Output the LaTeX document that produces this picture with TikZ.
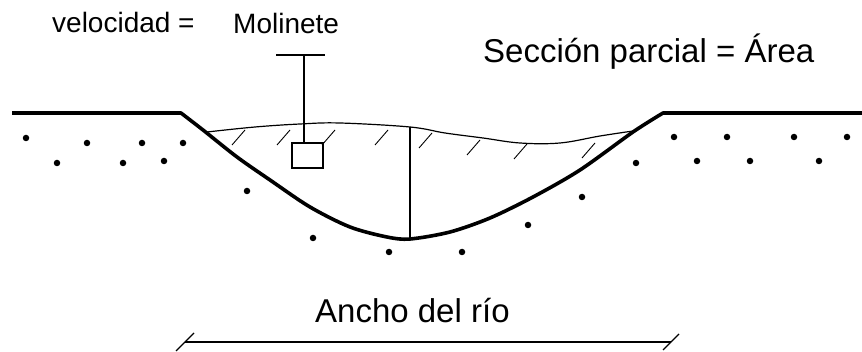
\documentclass[tikz,border=0pt]{standalone}
\usepackage{fontspec}
\setmainfont{Liberation Sans}
\begin{document}
\begin{tikzpicture}[x=1pt,y=-1pt,
  ground/.style={line width=3.6pt,line join=round},
  thinline/.style={line width=1.2pt},
  rodline/.style={line width=1.6pt},
  hatch/.style={line width=0.9pt},
  grain/.style={circle,fill=black,inner sep=0pt,minimum size=6.5pt},
  smalllabel/.style={inner sep=0pt,anchor=base west,font=\fontsize{28}{30}\selectfont},
  biglabel/.style={inner sep=0pt,anchor=base west,font=\fontsize{33}{36}\selectfont}]
\useasboundingbox (0,0) rectangle (862,352);

% labels
\node[smalllabel] (vel) at (52,33) {velocidad =};
\node[smalllabel] (mol) at (233,34) {Molinete};
\node[biglabel] (sec) at (483,63) {Sección parcial = Área};
\node[biglabel] (ancho) at (315,323) {Ancho del río};

% ground surface and river bed
\draw[ground] (12,113) -- (181,113) -- plot[smooth,tension=0.5] coordinates {
  (181,113) (203,130) (237,157) (270,180) (310,207) (350,227) (387,237)
  (410,239) (450,232) (490,218) (533,197) (580,170) (633,132) (663,113)}
  -- (862,113);

% water surface
\draw[thinline] plot[smooth,tension=0.6] coordinates {
  (207,132) (255,127) (300,124) (340,123) (410,127) (445,133) (483,138)
  (520,143) (560,143) (600,136) (633,131)};

% hatching below the water surface
\foreach \hx/\hy in {245/130,290/130,335/130,388/130,432/133,480/140,527/144,595/143}
  \draw[hatch] (\hx,\hy) -- ++(-13,15);

% depth line
\coordinate (surf) at (410,127);
\coordinate (bed) at (410,239);
\draw[rodline] (surf) -- (bed);

% current meter on its rod
\node[draw,line width=1.5pt,minimum width=31pt,minimum height=25pt,inner sep=0pt] (meter) at (307.5,155.5) {};
\coordinate (rodtop) at (304,55);
\coordinate (barL) at (276,55);
\coordinate (barR) at (325,55);
\draw[rodline] (barL) -- (barR);
\draw[rodline] (rodtop) -- (rodtop |- meter.north);

% soil grains
\foreach \gx/\gy in {26/138,87/143,142/143,183/143,57/163,123/163,164/161,
  247/191,313/238,389/252,462/252,528/225,582/197,636/163,
  674/137,727/137,794/137,847/137,697/161,750/161,819/161}
  \node[grain] at (\gx,\gy) {};

% river width dimension
\coordinate (dimL) at (185,342);
\coordinate (dimR) at (671,342);
\draw[thinline] (dimL) -- (dimR);
\draw[thinline] (dimL) ++(-9,9) -- ++(18,-18);
\draw[thinline] (dimR) ++(-8,8) -- ++(16,-16);
\end{tikzpicture}
\end{document}
